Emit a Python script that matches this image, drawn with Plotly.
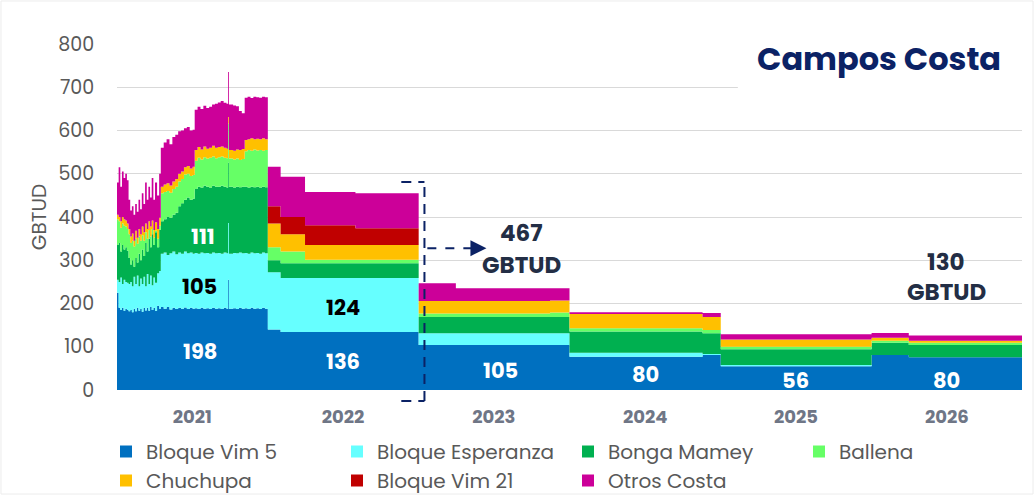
import plotly.graph_objects as go

# ---------------- data (GBTUD) ----------------
dates = [
    "2021-01-01","2021-01-05","2021-01-09","2021-01-13","2021-01-17","2021-01-21","2021-01-25","2021-01-29",
    "2021-02-02","2021-02-06","2021-02-10","2021-02-14","2021-02-18","2021-02-22","2021-02-26","2021-03-02",
    "2021-03-06","2021-03-10","2021-03-14","2021-03-18","2021-03-22","2021-03-26","2021-03-30","2021-04-03",
    "2021-04-08","2021-04-13","2021-04-17","2021-04-24","2021-05-01","2021-05-08","2021-05-15","2021-05-22",
    "2021-05-29","2021-06-05","2021-06-12","2021-06-19","2021-06-26","2021-07-03","2021-07-08","2021-07-15",
    "2021-07-22","2021-07-29","2021-08-05","2021-08-12","2021-08-19","2021-08-26","2021-09-02","2021-09-09",
    "2021-09-16","2021-09-23","2021-09-27","2021-09-29","2021-10-09","2021-10-16","2021-10-23","2021-10-30",
    "2021-11-06","2021-11-13","2021-11-20","2021-11-27","2021-12-04","2021-12-11","2021-12-18","2021-12-25",
    "2022-01-01","2022-02-01","2022-04-01","2022-08-01",
    "2023-01-01","2023-04-01","2023-11-15",
    "2024-01-01","2024-11-18",
    "2025-01-01",
    "2026-01-01","2026-04-01","2026-12-31",
]

bloque_vim5 = [
    225,190,185,190,183,188,185,182, 185,180,188,182,190,183,187,181,
    190,184,190,183,192,185,190,183, 195,188,192,188,192,186,190,187,
    190,188,191,187,190,188,189,187, 190,188,189,187,190,188,189,187,
    190,188,255,188,189,187,190,188, 189,187,190,188,189,187,190,188,
    140,134,134,134, 104,104,104, 77,81, 55, 81,76,76,
]
bloque_esperanza = [
    30,60,75,55,72,62,63,63, 65,60,74,63,75,57,71,64,
    72,56,78,62,73,57,70,65, 75,87,123,130,120,130,130,127,
    128,127,129,129,128,127,128,128, 128,128,128,128,128,128,128,128,
    128,128,131,127,128,129,128,128, 128,128,128,128,128,128,128,128,
    132,125,125,125, 27,27,27, 9,2, 3, 0,0,0,
]
bonga_mamey = [
    80,90,60,90,70,80,74,60, 40,60,23,60,30,75,42,80,
    48,100,52,105,65,118,75,117, 60,95,75,77,88,82,85,96,
    107,117,120,129,122,127,148,155, 150,156,153,153,154,154,153,157,
    152,152,140,155,151,154,151,154, 153,153,152,153,153,153,152,153,
    28,34,34,34, 38,38,38, 49,48, 36, 28,28,28,
]
ballena = [
    60,50,55,50,55,48,50,55, 50,45,47,45,43,40,45,33,
    35,25,30,20,25,12,17,3, 20,10,65,63,60,58,60,60,
    57,56,58,55,55,55,65,67, 65,66,65,69,68,66,68,68,
    67,68,90,65,65,65,63,64, 82,87,83,87,84,87,83,86,
    30,27,8,8, 8,8,10, 8,8, 6, 5,5,5,
]
chuchupa = [
    10,10,15,15,15,14,13,12, 15,17,13,18,14,17,15,20,
    20,20,22,20,23,20,18,20, 22,18,15,17,18,17,17,18,
    18,17,17,18,17,19,25,25, 23,25,23,23,25,24,24,23,
    23,22,15,20,20,21,23,23, 26,25,29,24,27,25,29,25,
    55,40,34,34, 29,29,28, 33,30, 17, 7,5,5,
]
bloque_vim21 = [
    0,0,0,0,0,0,0,0, 0,0,0,0,0,0,0,0,
    0,0,0,0,0,0,0,0, 0,0,0,0,0,0,0,0,
    0,0,0,0,0,0,0,0, 0,0,0,0,0,0,0,0,
    0,0,0,0,0,0,0,0, 0,0,0,0,0,0,0,0,
    40,40,46,39, 0,0,0, 0,0, 0, 0,0,0,
]
otros_costa = [
    75,115,80,105,95,108,100,68, 60,63,60,62,60,68,58,77,
    65,95,68,80,67,98,70,92, 78,102,90,97,102,95,103,102,
    98,95,90,90,88,86,93,93, 94,94,94,95,95,102,103,105,
    104,104,104,105,105,100,90,83, 98,98,93,98,96,96,96,97,
    91,93,77,81, 41,29,28, 4,9, 12, 11,12,12,
]

series_names = ["Bloque Vim 5", "Bloque Esperanza", "Bonga Mamey", "Ballena",
                "Chuchupa", "Bloque Vim 21", "Otros Costa"]
series_values = [bloque_vim5, bloque_esperanza, bonga_mamey, ballena,
                 chuchupa, bloque_vim21, otros_costa]
series_colors = ["#0070C0", "#66FFFF", "#00B050", "#66FF66",
                 "#FFC000", "#C00000", "#CC0099"]

year_ticks = ["2021-07-02", "2022-07-02", "2023-07-02", "2024-07-02", "2025-07-02", "2026-07-02"]
year_labels = ["2021", "2022", "2023", "2024", "2025", "2026"]

# in-area labels: (date, value, text, colour)
area_labels = [
    ("2021-07-20", 88, "198", "white"),
    ("2021-07-20", 240, "105", "black"),
    ("2021-07-27", 356, "111", "white"),
    ("2022-07-01", 190, "124", "black"),
    ("2022-07-03", 67, "136", "white"),
    ("2023-07-19", 46, "105", "white"),
    ("2024-07-04", 35, "80", "white"),
    ("2025-07-02", 23, "56", "white"),
    ("2026-07-01", 23, "80", "white"),
]

FONT = "Poppins, Inter, Lato, sans-serif"
NAVY = "#0B2265"
DARK = "#232E45"

fig = go.Figure()
for name, vals, col in zip(series_names, series_values, series_colors):
    fig.add_trace(go.Scatter(
        x=dates, y=vals, name=name, mode="lines", stackgroup="one",
        line=dict(width=0, color=col, shape="hv"), fillcolor=col,
        showlegend=False, hoverinfo="skip",
    ))
# legend entries as squares
for name, col in zip(series_names, series_colors):
    fig.add_trace(go.Scatter(
        x=[None], y=[None], name=name, mode="markers",
        marker=dict(symbol="square", size=15, color=col), showlegend=True,
    ))

for d, v, t, c in area_labels:
    fig.add_annotation(x=d, y=v, text=f"<b>{t}</b>", showarrow=False,
                       font=dict(family=FONT, size=21, color=c))

# 467 GBTUD / 130 GBTUD
fig.add_annotation(x="2023-09-08", y=363, text="<b>467</b>", showarrow=False,
                   font=dict(family=FONT, size=23, color=DARK))
fig.add_annotation(x="2023-09-08", y=289, text="<b>GBTUD</b>", showarrow=False,
                   font=dict(family=FONT, size=23, color=DARK))
fig.add_annotation(x="2026-07-01", y=296, text="<b>130</b>", showarrow=False,
                   font=dict(family=FONT, size=23, color=DARK))
fig.add_annotation(x="2026-07-01", y=227, text="<b>GBTUD</b>", showarrow=False,
                   font=dict(family=FONT, size=23, color=DARK))

# dashed bracket
DASH = "10px,7px"
fig.add_shape(type="line", xref="x", yref="paper", x0="2023-01-15", x1="2023-01-15",
              y0=-0.032, y1=0.601, line=dict(color=NAVY, width=2, dash=DASH))
fig.add_shape(type="line", xref="x", yref="paper", x0="2022-11-20", x1="2023-01-15",
              y0=0.601, y1=0.601, line=dict(color=NAVY, width=2, dash=DASH))
fig.add_shape(type="line", xref="x", yref="paper", x0="2022-11-20", x1="2023-01-15",
              y0=-0.032, y1=-0.032, line=dict(color=NAVY, width=2, dash=DASH))
# dashed arrow
fig.add_shape(type="line", xref="x", yref="paper", x0="2023-01-22", x1="2023-05-16",
              y0=0.41, y1=0.41, line=dict(color=NAVY, width=2, dash="9px,9px"))
fig.add_annotation(x="2023-06-14", y=0.41, xref="x", yref="paper", ax=-14, ay=0,
                   showarrow=True, arrowhead=2, arrowsize=1.6, arrowwidth=2,
                   arrowcolor=NAVY, text="")

# title with white box covering gridlines
fig.add_shape(type="rect", xref="paper", yref="paper", x0=0.686, x1=1.0,
              y0=0.85, y1=1.03, fillcolor="white", line=dict(width=0), layer="above")
fig.add_annotation(x=(879 - 117) / 905, y=(390 - 58) / 346, xref="paper", yref="paper",
                   xanchor="center", yanchor="middle",
                   text="<b>Campos Costa</b>", showarrow=False,
                   font=dict(family=FONT, size=32, color=NAVY))

# faint outer frame
fig.add_shape(type="rect", xref="paper", yref="paper", x0=-0.1282, x1=1.0122,
              y0=-0.3006, y1=1.1243, line=dict(color="#ECECEC", width=1), layer="below")

# figure is a little taller than the 496px window so the legend never squeezes the plot
fig.update_layout(
    width=1035, height=520,
    margin=dict(l=117, r=13, t=44, b=130),
    paper_bgcolor="white", plot_bgcolor="white",
    font=dict(family=FONT, color="#595959"),
    showlegend=True,
    legend=dict(orientation="h", x=(106 - 117) / 905, xanchor="left",
                y=-(432 - 390) / 346, yanchor="top",
                entrywidth=186, entrywidthmode="pixels", traceorder="normal",
                font=dict(family=FONT, size=20, color="#595959"),
                itemsizing="constant", bgcolor="rgba(0,0,0,0)"),
    xaxis=dict(type="date", range=["2021-01-01", "2026-12-31"], showgrid=False,
               zeroline=False, showline=False,
               tickmode="array", tickvals=year_ticks,
               ticktext=[f"<b>{y}</b>" for y in year_labels],
               ticks="outside", ticklen=10, tickcolor="rgba(0,0,0,0)",
               tickfont=dict(family=FONT, size=18, color="#6F7686")),
    yaxis=dict(range=[0, 800], dtick=100, showgrid=True, gridcolor="#D9D9D9",
               gridwidth=1, zeroline=False, showline=False,
               ticks="outside", ticklen=18, tickcolor="rgba(0,0,0,0)",
               tickfont=dict(family=FONT, size=19, color="#595959"),
               title=dict(text="GBTUD", font=dict(family=FONT, size=20, color="#595959"),
                          standoff=6)),
)

fig.write_html(
    "out.html",
    config={"displayModeBar": False},
    post_script=("document.body.style.margin='0px';"
                 "document.body.style.overflow='hidden';"
                 "document.documentElement.style.overflow='hidden';"),
)
